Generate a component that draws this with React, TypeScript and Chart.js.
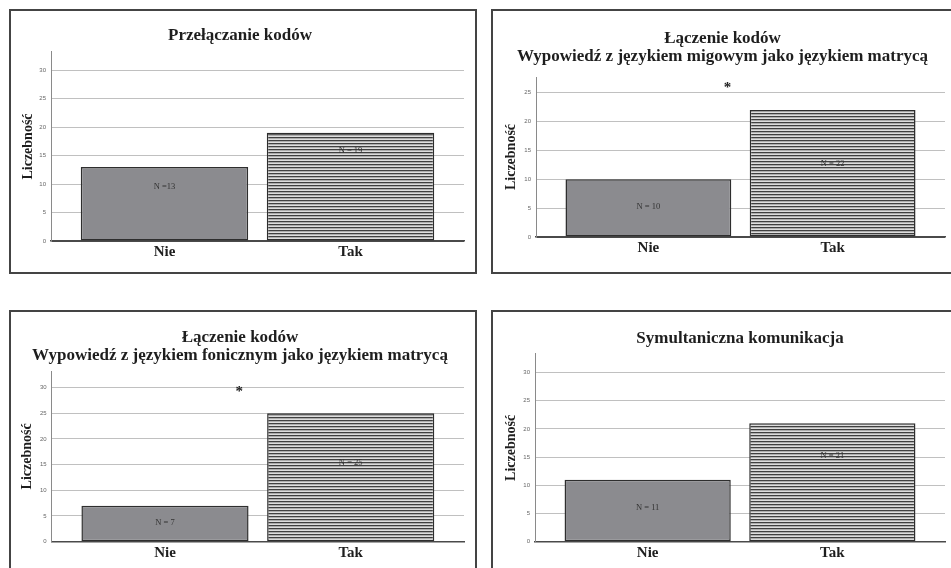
import React, { useEffect, useRef } from "react";
import { Chart, registerables } from "chart.js";

Chart.register(...registerables);

// ---------- data ----------
const categories = ["Nie", "Tak"];
const categoryPositions = [1, 2];
const yAxisTitle = "Liczebność";

const title1 = ["Przełączanie kodów"];
const values1 = [13, 19];
const nLabels1 = ["N =13", "N = 19"];
const nLabelAt1 = [9.5, 15.8];

const title2 = ["Łączenie kodów", "Wypowiedź z językiem migowym jako językiem matrycą"];
const values2 = [10, 22];
const nLabels2 = ["N = 10", "N = 22"];
const nLabelAt2 = [5.2, 12.6];
const star2 = { x: 1.43, y: 26.3, text: "*" };

const title3 = ["Łączenie kodów", "Wypowiedź z językiem fonicznym jako językiem matrycą"];
const values3 = [7, 25];
const nLabels3 = ["N = 7", "N = 25"];
const nLabelAt3 = [3.6, 15.4];
const star3 = { x: 1.4, y: 29.7, text: "*" };

const title4 = ["Symultaniczna komunikacja"];
const values4 = [11, 21];
const nLabels4 = ["N = 11", "N = 21"];
const nLabelAt4 = [6.1, 15.2];

const yMax = [33.2, 27.7, 33.2, 33.3];

// ---------- styling helpers ----------
const SERIF = "'Liberation Serif', 'Times New Roman', serif";
const SANS = "'Liberation Sans', Arial, sans-serif";

function makeStripePattern(): CanvasPattern | string {
  const c = document.createElement("canvas");
  c.width = 4;
  c.height = 3;
  const g = c.getContext("2d");
  if (!g) return "#aaa";
  g.fillStyle = "#404040";
  g.fillRect(0, 0, 4, 1);
  g.fillStyle = "#adadad";
  g.fillRect(0, 1, 4, 1);
  g.fillStyle = "#dedede";
  g.fillRect(0, 2, 4, 1);
  const ctx = document.createElement("canvas").getContext("2d");
  const p = ctx ? ctx.createPattern(c, "repeat") : null;
  return p || "#aaa";
}

type PanelProps = {
  box: { left: number; top: number; width: number; height: number };
  titleLines: string[];
  titleOverPlot?: boolean;
  values: number[];
  nLabels: string[];
  nLabelAt: number[];
  star?: { x: number; y: number; text: string };
  ymax: number;
  lay: { pl: number; pr: number; yw: number; xh: number; tT: number; tB: number; yPad: number };
};

function Panel(props: PanelProps) {
  const ref = useRef<HTMLCanvasElement | null>(null);
  const border = 2;
  const W = props.box.width - 2 * border;
  const H = props.box.height - 2 * border;

  useEffect(() => {
    const canvas = ref.current;
    if (!canvas) return;
    const pattern = makeStripePattern();
    const { values, nLabels, nLabelAt, star, lay } = props;

    const annot = {
      id: "annot",
      afterDatasetsDraw(chart: any) {
        const { ctx, scales } = chart;
        const x = scales.x;
        const y = scales.y;
        const meta = chart.getDatasetMeta(0);
        ctx.save();
        ctx.fillStyle = "#333";
        ctx.font = `8.5px ${SERIF}`;
        ctx.textAlign = "center";
        ctx.textBaseline = "middle";
        meta.data.forEach((el: any, i: number) => {
          ctx.fillText(nLabels[i], el.x, y.getPixelForValue(nLabelAt[i]));
        });
        if (star) {
          ctx.font = `bold 15px ${SERIF}`;
          ctx.fillStyle = "#222";
          ctx.fillText(star.text, x.getPixelForValue(star.x), y.getPixelForValue(star.y) + 3);
        }
        ctx.restore();
      },
    };

    const chart = new Chart(canvas, {
      type: "bar",
      data: {
        datasets: [
          {
            data: values.map((v, i) => ({ x: categoryPositions[i], y: v })),
            backgroundColor: ["#8b8b8f", pattern as any],
            borderColor: "#2e2e2e",
            borderWidth: 1.5,
            borderSkipped: false,
            barPercentage: 0.9,
            categoryPercentage: 1,
          } as any,
        ],
      },
      options: {
        responsive: false,
        animation: false,
        events: [],
        layout: { padding: { left: lay.pl, right: lay.pr, top: 0, bottom: 0 } },
        plugins: {
          legend: { display: false },
          tooltip: { enabled: false },
          title: {
            display: true,
            fullSize: !props.titleOverPlot,
            text: props.titleLines,
            color: "#1e1e1e",
            font: { family: SERIF, size: 17, weight: "bold", lineHeight: 1.08 },
            padding: { top: lay.tT, bottom: lay.tB },
          },
        },
        scales: {
          x: {
            type: "linear",
            min: 0.39,
            max: 2.61,
            offset: false,
            afterBuildTicks: (s: any) => {
              s.ticks = categoryPositions.map((v) => ({ value: v }));
            },
            afterFit: (s: any) => {
              s.height = lay.xh;
            },
            ticks: {
              autoSkip: false,
              maxRotation: 0,
              padding: 2,
              color: "#1e1e1e",
              font: { family: SERIF, size: 15, weight: "bold" },
              callback: (v: any) => {
                const i = categoryPositions.indexOf(Number(v));
                return i >= 0 ? categories[i] : "";
              },
            },
            grid: { display: false, drawTicks: false },
            border: { display: true, color: "#4a4a4a", width: 1.5 },
          },
          y: {
            min: 0,
            max: props.ymax,
            afterFit: (s: any) => {
              s.width = lay.yw;
            },
            ticks: {
              stepSize: 5,
              includeBounds: false,
              padding: 5,
              color: "#666",
              font: { family: SANS, size: 6 },
            },
            grid: {
              drawTicks: false,
              lineWidth: 1,
              color: (c: any) => (c.tick && c.tick.value === 0 ? "#4a4a4a" : "#c0c0c0"),
            },
            border: { display: true, color: "#8a8a8a", width: 1 },
            title: {
              display: true,
              text: yAxisTitle,
              color: "#1e1e1e",
              font: { family: SERIF, size: 14, weight: "bold", lineHeight: 1.2 },
              padding: { top: lay.yPad, bottom: 0 },
            },
          },
        },
      } as any,
      plugins: [annot],
    });
    return () => chart.destroy();
  }, []);

  return (
    <div
      style={{
        position: "absolute",
        left: props.box.left,
        top: props.box.top,
        width: props.box.width,
        height: props.box.height,
        border: `${border}px solid #444`,
        boxSizing: "border-box",
        background: "#fff",
      }}
    >
      <canvas
        ref={ref}
        width={W}
        height={H}
        style={{ position: "absolute", left: 0, top: 0, width: W, height: H }}
      />
    </div>
  );
}

export default function App() {
  return (
    <div
      style={{
        position: "fixed",
        left: 0,
        top: 0,
        width: 951,
        height: 568,
        overflow: "hidden",
        background: "#fff",
      }}
    >
      <Panel
        box={{ left: 9, top: 9, width: 468, height: 265 }}
        titleLines={title1}
        values={values1}
        nLabels={nLabels1}
        nLabelAt={nLabelAt1}
        ymax={yMax[0]}
        lay={{ pl: 5, pr: 11, yw: 35, xh: 31, tT: 15.3, tB: 7.3, yPad: 4.1 }}
      />
      <Panel
        box={{ left: 491, top: 9, width: 462, height: 265 }}
        titleLines={title2}
        values={values2}
        nLabels={nLabels2}
        nLabelAt={nLabelAt2}
        star={star2}
        ymax={yMax[1]}
        lay={{ pl: 7, pr: 6, yw: 36, xh: 35, tT: 18.3, tB: 11, yPad: 2.6 }}
      />
      <Panel
        box={{ left: 9, top: 310, width: 468, height: 265 }}
        titleLines={title3}
        values={values3}
        nLabels={nLabels3}
        nLabelAt={nLabelAt3}
        star={star3}
        ymax={yMax[2]}
        lay={{ pl: 5, pr: 11, yw: 35.7, xh: 31.3, tT: 16.3, tB: 6, yPad: 3.1 }}
      />
      <Panel
        box={{ left: 491, top: 310, width: 462, height: 265 }}
        titleLines={title4}
        titleOverPlot
        values={values4}
        nLabels={nLabels4}
        nLabelAt={nLabelAt4}
        ymax={yMax[3]}
        lay={{ pl: 0, pr: 6, yw: 42, xh: 31.3, tT: 17.5, tB: 6.1, yPad: 9.6 }}
      />
    </div>
  );
}
